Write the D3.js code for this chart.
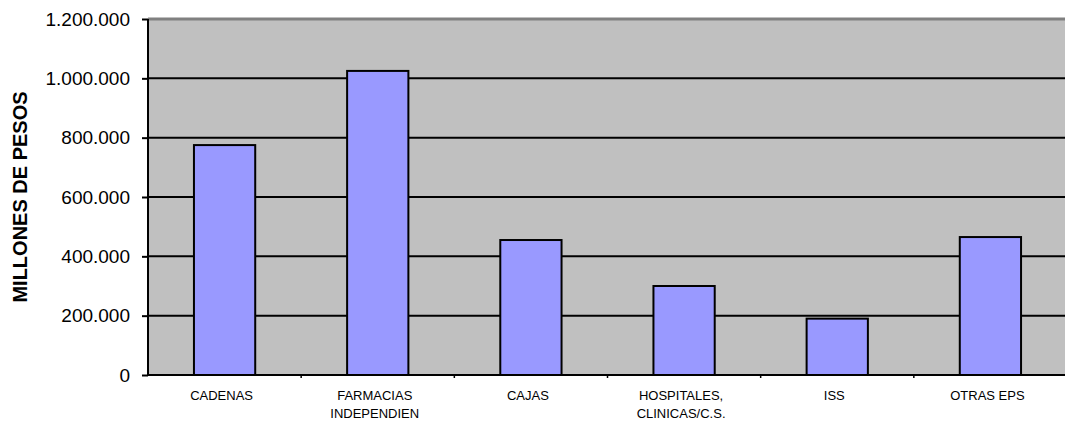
<html>
  <head>
    <style>
      body { margin: 0; background: #fff; }
      text { font-family: Arial, "Liberation Sans", sans-serif; }
    </style>
  </head>
  <body>
  <div id="chart"></div>
  <script src="https://d3js.org/d3.v7.js"></script>
  <script>
    // data
    var categories = ["CADENAS", "FARMACIAS INDEPENDIEN", "CAJAS", "HOSPITALES, CLINICAS/C.S.", "ISS", "OTRAS EPS"]
    var labelLines = [["CADENAS"], ["FARMACIAS", "INDEPENDIEN"], ["CAJAS"], ["HOSPITALES,", "CLINICAS/C.S."], ["ISS"], ["OTRAS EPS"]]
    var values = [775000, 1025000, 455000, 300000, 190000, 465000]
    var yTicks = [0, 200000, 400000, 600000, 800000, 1000000, 1200000]

    var width = 1065, height = 421
    var plotLeft = 148, plotRight = 1067, plotTop = 19, plotBottom = 375

    var locale = d3.formatLocale({decimal: ",", thousands: ".", grouping: [3], currency: ["$", ""]})
    var fmt = locale.format(",d")

    var svg = d3.select("#chart").append("svg")
      .attr("width", width)
      .attr("height", height)

    var x = d3.scaleBand()
      .domain(categories)
      .range([plotLeft, plotRight])
      .paddingInner(0.6)
      .paddingOuter(0.3)

    var y = d3.scaleLinear()
      .domain([0, 1200000])
      .range([plotBottom, plotTop])

    // plot background
    svg.append("rect")
      .attr("x", plotLeft).attr("y", plotTop)
      .attr("width", plotRight - plotLeft).attr("height", plotBottom - plotTop)
      .attr("fill", "#c0c0c0")

    // gridlines
    svg.selectAll(".grid")
      .data(yTicks.filter(d => d > 0 && d < 1200000))
      .enter().append("line")
      .attr("x1", plotLeft).attr("x2", plotRight)
      .attr("y1", d => y(d)).attr("y2", d => y(d))
      .attr("stroke", "#000").attr("stroke-width", 2)

    // top border
    svg.append("line")
      .attr("x1", plotLeft).attr("x2", plotRight)
      .attr("y1", y(1200000)).attr("y2", y(1200000))
      .attr("stroke", "#808080").attr("stroke-width", 3)

    // bars
    svg.selectAll(".bar")
      .data(values)
      .enter().append("rect")
      .attr("x", (d, i) => x(categories[i]))
      .attr("y", d => y(d))
      .attr("width", x.bandwidth())
      .attr("height", d => y(0) - y(d))
      .attr("fill", "#9999ff")
      .attr("stroke", "#000")
      .attr("stroke-width", 2)

    // y axis
    var yAxis = svg.append("g")
      .attr("transform", "translate(" + plotLeft + ",0)")
      .call(d3.axisLeft(y).tickValues(yTicks).tickFormat(fmt).tickSize(6).tickPadding(12))
    yAxis.select(".domain").attr("stroke-width", 2).attr("d", "M0," + plotTop + "V" + plotBottom)
    yAxis.selectAll(".tick line").attr("stroke-width", 2)
    yAxis.selectAll("text")
      .attr("font-size", 19)
      .attr("font-family", "Arial, 'Liberation Sans', sans-serif")
      .attr("fill", "#000")

    // x axis line
    svg.append("line")
      .attr("x1", plotLeft).attr("x2", plotRight)
      .attr("y1", plotBottom).attr("y2", plotBottom)
      .attr("stroke", "#000").attr("stroke-width", 2)

    // small category separator ticks
    svg.selectAll(".sep")
      .data(categories.slice(1))
      .enter().append("line")
      .attr("x1", d => x(d) - x.step() * x.paddingInner() / 2)
      .attr("x2", d => x(d) - x.step() * x.paddingInner() / 2)
      .attr("y1", plotBottom).attr("y2", plotBottom + 3)
      .attr("stroke", "#000").attr("stroke-width", 1.5)

    // category labels
    var labels = svg.selectAll(".xlab")
      .data(categories)
      .enter().append("text")
      .attr("text-anchor", "middle")
      .attr("font-size", 13)
      .attr("fill", "#000")
    labels.each(function(d, i) {
      var t = d3.select(this)
      labelLines[i].forEach(function(line, j) {
        t.append("tspan")
          .attr("x", x(d) + x.bandwidth() / 2 - 3)
          .attr("y", 400 + j * 18)
          .text(line)
      })
    })

    // y title
    svg.append("text")
      .attr("transform", "translate(27," + (plotTop + plotBottom) / 2 + ") rotate(-90)")
      .attr("text-anchor", "middle")
      .attr("font-size", 20)
      .attr("font-weight", "bold")
      .text("MILLONES DE PESOS")
  </script>
  </body>
</html>
